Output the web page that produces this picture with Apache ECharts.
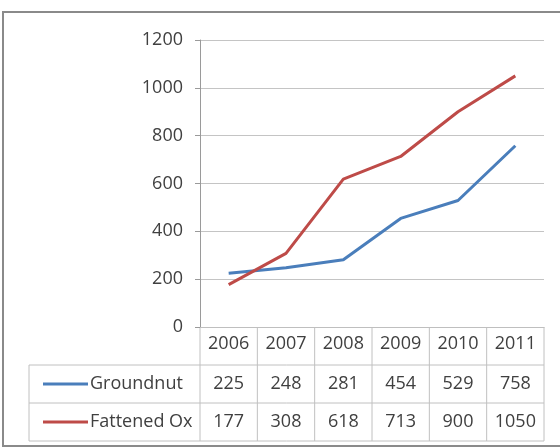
<!DOCTYPE html>
<html><head><meta charset="utf-8">
<script src="https://cdn.jsdelivr.net/npm/echarts@6/dist/echarts.min.js"></script>
<style>html,body{margin:0;padding:0;background:#fff}#c{width:560px;height:448px}</style>
</head><body><div id="c"></div>
<script>
const years = ['2006','2007','2008','2009','2010','2011'];
const seriesNames = ['Groundnut','Fattened Ox'];
const groundnut = [225,248,281,454,529,758];
const fattenedOx = [177,308,618,713,900,1050];
const colors = ['#4A7EBB','#BE4B48'];
const FONT = 'Open Sans';
const TXT = '#404040';

const chart = echarts.init(document.getElementById('c'));
const option = {
  animation:false,
  backgroundColor:'#fff',
  grid:{left:200,right:16,top:40,bottom:121},
  xAxis:{type:'category',data:years,boundaryGap:true,
    axisLine:{show:true,lineStyle:{color:'#bfbfbf',width:1}},
    axisTick:{show:false},
    axisLabel:{show:true,margin:8,color:TXT,fontFamily:FONT,fontSize:18}},
  yAxis:{type:'value',min:0,max:1200,interval:200,
    axisLine:{show:true,lineStyle:{color:'#9a9a9a',width:1}},
    axisTick:{show:true,length:5,lineStyle:{color:'#9a9a9a'}},
    splitLine:{show:true,lineStyle:{color:'#c4c4c4',width:1}},
    axisLabel:{margin:17,color:TXT,fontFamily:FONT,fontSize:18,formatter:v=>String(v)}},
  series:[
    {name:seriesNames[0],type:'line',data:groundnut,symbol:'none',lineStyle:{color:colors[0],width:3},itemStyle:{color:colors[0]}},
    {name:seriesNames[1],type:'line',data:fattenedOx,symbol:'none',lineStyle:{color:colors[1],width:3},itemStyle:{color:colors[1]}}
  ]
};
chart.setOption(option);

const xs = years.map((y,i)=>chart.convertToPixel({xAxisIndex:0},i));
const colW = xs[1]-xs[0];
const y0 = chart.convertToPixel({yAxisIndex:0},0);
const rowH = 38;
const left = xs[0]-colW/2, right = xs[xs.length-1]+colW/2;
const labelLeft = 29;
const lineCol = '#c0c0c0';
const g = [];
// frame
g.push({type:'rect',shape:{x:3,y:12,width:600,height:434},style:{fill:'none',stroke:'#8a8a8a',lineWidth:2},silent:true});
// horizontal table lines
for(let r=1;r<=3;r++){
  g.push({type:'line',shape:{x1:labelLeft,y1:y0+r*rowH,x2:right,y2:y0+r*rowH},style:{stroke:lineCol,lineWidth:1}});
}
// vertical lines
for(let i=0;i<=years.length;i++){
  const x = left+i*colW;
  g.push({type:'line',shape:{x1:x,y1:y0,x2:x,y2:y0+3*rowH},style:{stroke:lineCol,lineWidth:1}});
}
g.push({type:'line',shape:{x1:labelLeft,y1:y0+rowH,x2:labelLeft,y2:y0+3*rowH},style:{stroke:lineCol,lineWidth:1}});
const rowsData = [groundnut,fattenedOx];
rowsData.forEach((vals,r)=>{
  const cy = y0+rowH*(r+1)+rowH/2;
  g.push({type:'line',shape:{x1:43,y1:cy,x2:88,y2:cy},style:{stroke:colors[r],lineWidth:3}});
  g.push({type:'text',x:90,y:cy,style:{text:seriesNames[r],fill:TXT,font:'18px "'+FONT+'"',textAlign:'left',textVerticalAlign:'middle'}});
  vals.forEach((v,i)=>{
    g.push({type:'text',x:xs[i],y:cy,style:{text:String(v),fill:TXT,font:'18px "'+FONT+'"',textAlign:'center',textVerticalAlign:'middle'}});
  });
});
chart.setOption({graphic:g});
</script></body></html>
